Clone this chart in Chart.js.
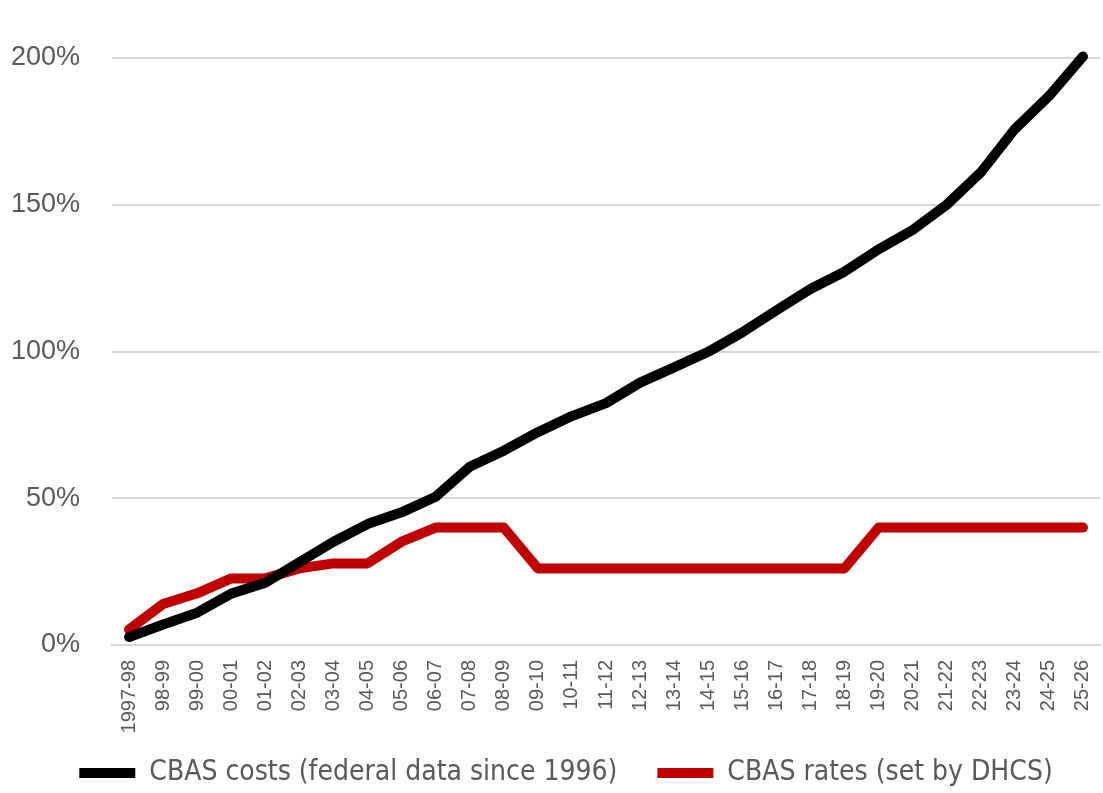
<!DOCTYPE html>
<html>
<head>
<meta charset="utf-8">
<script src="https://cdn.jsdelivr.net/npm/chart.js@4.4.1/dist/chart.umd.min.js"></script>
<style>
  html, body { margin: 0; padding: 0; background: #fff; }
  #wrap { width: 1103px; height: 793px; }
</style>
</head>
<body>
<div id="wrap"><canvas id="chart" width="1103" height="793"></canvas></div>
<script>
const years = [
  "1997-98", "98-99", "99-00", "00-01", "01-02", "02-03", "03-04", "04-05", "05-06", "06-07",
  "07-08", "08-09", "09-10", "10-11", "11-12", "12-13", "13-14", "14-15", "15-16", "16-17",
  "17-18", "18-19", "19-20", "20-21", "21-22", "22-23", "23-24", "24-25", "25-26"
];

// growth since base year, in percent
const costs = [
  2.7, 7, 11, 17.5, 21.2, 28.2, 35.2, 41.2, 45.2, 50.5,
  60.7, 66.2, 72.5, 78, 82.4, 89.4, 94.6, 99.9, 106.5, 114,
  121.3, 127.2, 134.8, 141.4, 150, 161, 175.8, 187, 200.5
];
const rates = [
  5.3, 14, 17.6, 22.7, 22.7, 26.1, 27.8, 27.8, 35.2, 40,
  40, 40, 26.1, 26.1, 26.1, 26.1, 26.1, 26.1, 26.1, 26.1,
  26.1, 26.1, 40, 40, 40, 40, 40, 40, 40
];

const costsLabel = "CBAS costs (federal data since 1996)";
const ratesLabel = "CBAS rates (set by DHCS)";

const yTicks = [0, 50, 100, 150, 200];

// nudge the legend up into the free space under the rotated labels
const legendShift = {
  id: "legendShift",
  afterLayout(chart) {
    const lg = chart.legend;
    lg.top -= 21;
    lg.left += 16;
    lg.right += 16;
  },
};

const ctx = document.getElementById("chart").getContext("2d");
new Chart(ctx, {
  type: "line",
  data: {
    labels: years,
    datasets: [
      {
        label: costsLabel,
        data: costs,
        borderColor: "#000000",
        backgroundColor: "#000000",
        borderWidth: 10,
        borderCapStyle: "round",
        borderJoinStyle: "round",
        pointRadius: 0,
        pointStyle: "line",
        tension: 0,
        clip: false,
      },
      {
        label: ratesLabel,
        data: rates,
        borderColor: "#C00000",
        backgroundColor: "#C00000",
        borderWidth: 10,
        borderCapStyle: "round",
        borderJoinStyle: "round",
        pointRadius: 0,
        pointStyle: "line",
        tension: 0,
        clip: false,
      },
    ],
  },
  plugins: [legendShift],
  options: {
    responsive: false,
    animation: false,
    layout: { padding: { top: 58, right: 3, left: 0, bottom: 0 } },
    plugins: {
      tooltip: { enabled: false },
      legend: {
        position: "bottom",
        maxHeight: 53,
        labels: {
          color: "#595959",
          font: { family: "'Liberation Sans Narrow', 'DejaVu Sans Condensed', sans-serif", size: 28 },
          usePointStyle: true,
          pointStyleWidth: 56,
          boxHeight: 10,
          padding: 40,
        },
      },
    },
    scales: {
      x: {
        offset: true,
        grid: { display: false, drawTicks: false },
        border: { color: "#D9D9D9", width: 2 },
        ticks: {
          color: "#595959",
          font: { family: "'Liberation Sans', Arial, sans-serif", size: 20 },
          maxRotation: 90,
          minRotation: 90,
          autoSkip: false,
          padding: 15,
        },
        afterFit: (scale) => {
          scale.height = 95;
          scale.paddingLeft = 0;
          scale.paddingRight = 0;
        },
      },
      y: {
        min: 0,
        max: 200,
        afterBuildTicks: (scale) => { scale.ticks = yTicks.map((v) => ({ value: v })); },
        grid: { color: "#D9D9D9", lineWidth: 2, drawTicks: false },
        border: { display: false },
        ticks: {
          color: "#595959",
          font: { family: "'Liberation Sans', Arial, sans-serif", size: 27 },
          padding: 32,
          callback: (v) => v + "%",
        },
        afterFit: (scale) => { scale.width = 112; },
      },
    },
  },
});
</script>
</body>
</html>
